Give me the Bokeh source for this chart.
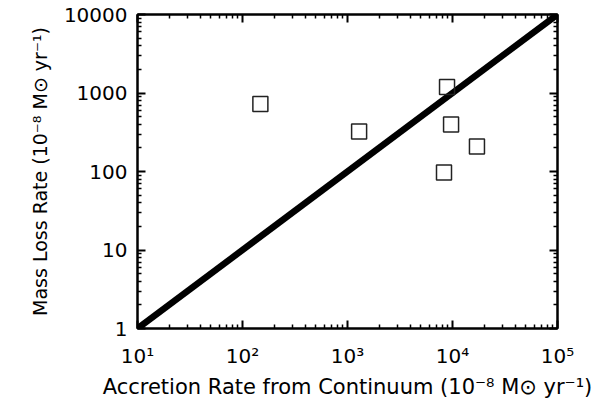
from bokeh.plotting import figure
from bokeh.models import Range1d, FixedTicker, LogAxis, CustomJSTickFormatter
from bokeh.embed import file_html
from bokeh.resources import INLINE

# measured points (accretion rate, mass loss rate) in 1e-8 Msun/yr
acc_rate = [148, 1290, 8870, 9690, 17100, 8300]
loss_rate = [724, 323, 1192, 397, 208, 97]

# one-to-one style reference line
line_x = [10, 100000]
line_y = [1, 10000]

x_ticks = [10, 100, 1000, 10000, 100000]
x_tick_labels = ["10\u00b9", "10\u00b2", "10\u00b3", "10\u2074", "10\u2075"]
y_ticks = [1, 10, 100, 1000, 10000]
y_tick_labels = ["1", "10", "100", "1000", "10000"]

font = "DejaVu Sans"


def minors(majors):
    out = []
    for m in majors[:-1]:
        out += [m * k for k in range(2, 10)]
    return out


def label_formatter(vals, labs):
    return CustomJSTickFormatter(
        args=dict(vals=vals, labs=labs),
        code="""
        for (let i = 0; i < vals.length; i++) {
            if (Math.abs(tick - vals[i]) < 1e-6 * vals[i]) return labs[i];
        }
        return "";
        """)


x_ticker = FixedTicker(ticks=x_ticks, minor_ticks=minors(x_ticks))
y_ticker = FixedTicker(ticks=y_ticks, minor_ticks=minors(y_ticks))

p = figure(width=609, height=401, x_axis_type="log", y_axis_type="log",
           x_range=Range1d(10, 100000), y_range=Range1d(1, 10000),
           output_backend="svg", toolbar_location=None,
           min_border_left=137, min_border_right=52,
           min_border_top=14, min_border_bottom=72)

p.grid.visible = False
p.outline_line_color = "black"
p.outline_line_width = 2

p.line(line_x, line_y, line_color="black", line_width=6.5)
p.scatter(acc_rate, loss_rate, marker="square", size=15,
          fill_color=None, line_color="#222222", line_width=1.5)

p.xaxis.ticker = x_ticker
p.yaxis.ticker = y_ticker
p.xaxis.formatter = label_formatter(x_ticks, x_tick_labels)
p.yaxis.formatter = label_formatter(y_ticks, y_tick_labels)

p.xaxis.axis_label = "Accretion Rate from Continuum (10\u207b\u2078 M\u2299 yr\u207b\u00b9)"
p.yaxis.axis_label = "Mass Loss Rate (10\u207b\u2078 M\u2299 yr\u207b\u00b9)"

for ax in [p.xaxis[0], p.yaxis[0]]:
    ax.axis_label_text_font = font
    ax.axis_label_text_font_style = "normal"
    ax.axis_label_text_color = "black"
    ax.major_label_text_font = font
    ax.major_label_text_color = "black"
    ax.major_label_text_font_size = "20px"
    ax.axis_line_width = 2
    ax.major_tick_line_width = 2
    ax.minor_tick_line_width = 1.5
    ax.major_tick_in = 8
    ax.major_tick_out = 0
    ax.minor_tick_in = 4
    ax.minor_tick_out = 0

p.xaxis.axis_label_text_font_size = "21px"
p.yaxis.axis_label_text_font_size = "19px"
p.xaxis.major_label_standoff = 15
p.yaxis.major_label_standoff = 10
p.xaxis.axis_label_standoff = 4
p.yaxis.axis_label_standoff = 10

# mirrored axes on top and right, ticks only
for loc, tk in [("above", x_ticker), ("right", y_ticker)]:
    ax = LogAxis(ticker=tk, major_label_text_font_size="1px",
                 major_label_text_alpha=0,
                 axis_line_width=2, major_tick_line_width=2,
                 minor_tick_line_width=1.5, major_tick_in=8, major_tick_out=0,
                 minor_tick_in=4, minor_tick_out=0, major_label_standoff=0)
    p.add_layout(ax, loc)

open("out.html", "w").write(file_html(p, INLINE))
